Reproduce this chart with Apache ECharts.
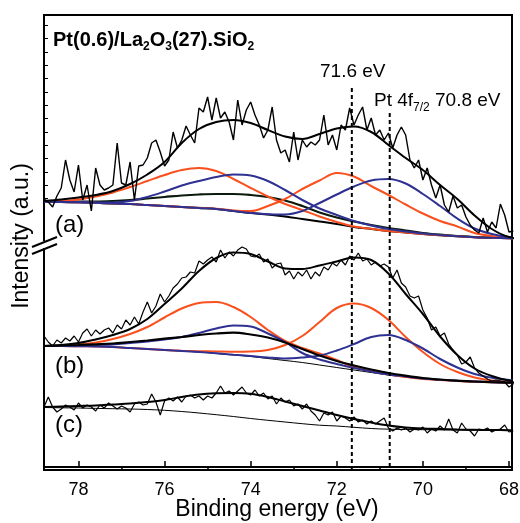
<!DOCTYPE html>
<html><head><meta charset="utf-8">
<script src="https://cdn.jsdelivr.net/npm/echarts@6/dist/echarts.min.js"></script>
<style>html,body{margin:0;padding:0;background:#fff}#c{width:520px;height:523px}</style>
</head><body><div id="c"></div>
<script>
// ---- energies (eV) ----
const fitE = [78.8,78.4,78.0,77.6,77.2,76.8,76.4,76.0,75.6,75.2,74.8,74.4,74.0,73.6,73.2,72.8,72.4,72.0,71.6,71.2,70.8,70.4,70.0,69.6,69.2,68.8,68.4,68.0,67.6];
const rawStart = 78.8, rawStep = 0.1;
const xMajorTicks = [68,70,72,74,76,78];
const xMinorTicks = [69,71,73,75,77];
const yTicks = [269,282,295,309,322,335,349,362,375,389,402,415,429,442];

// ---- spectrum (a) ----
const rawA = [268,265,260,271,279,307,287,275,302,267,
282,256,299,282,277,279,282,324,284,282,
305,267,301,302,309,324,327,315,301,307,
335,319,327,341,332,324,359,355,370,347,
369,349,355,345,327,367,342,357,365,352,
342,329,337,360,327,314,317,305,335,307,
327,320,325,322,327,352,322,332,317,342,
337,359,342,352,360,337,349,332,337,327,
334,319,332,340,332,307,299,307,287,299,
282,269,282,262,255,271,259,262,250,242,
237,234,249,235,245,239,263,252,235,236];
const envA   = [266,267.5,269.5,272,276,283,292.5,305,324,338,345,347,344,337,330.5,328,333,338.5,340.5,335,322,309,297,282,268,251.5,238,230,228.8];
const bgA    = [265.5,265,264.7,264.2,263.5,263,262,261,260,259,258,256,254,252.5,250.5,248,245.5,243,240,238,236,234.5,233,231.7,230.7,229.8,229.2,228.8,228.5];
const blackA = [265.5,265.5,265.5,265.5,266,267,268.5,270,271.5,272.5,273,273,272,270,266.5,261,254.5,249.5,245.5,242,239,236.5,234,232.3,231,230,229.4,229,228.7];
const red1A  = [265.7,266,267.5,270.5,274.5,280,286,292,297,299,296,288,279,270.5,263,257,250.5,245,240.5,238.2,236,234.5,233,231.7,230.7,229.8,229.2,228.8,228.5];
const red2A  = [265.5,265,264.7,264.2,263.5,263,262,261,260,259.2,258.3,256.5,256,261,268,278,286.5,294,290.5,281,272,262.5,253.5,246,240.5,234,231,229,228.6];
const blue1A = [265.6,265.1,264.8,264.5,264.5,266,270,275.5,281.5,286,290,292.5,291.5,286,277,267,258.5,252,246,241.5,238,235.5,233.5,232,230.8,229.8,229.2,228.8,228.5];
const blue2A = [265.5,265,264.7,264.2,263.5,263,262,261,260,259,258,256,254,252.7,252.5,256,264,272.5,280.5,286.5,288,283.5,273,261,248.5,238.5,233,230,229];

// ---- spectrum (b) ----
const rawB = [131,125,121,127,124,129,126,131,125,134,
138,131,137,133,137,139,134,142,138,147,
142,150,143,155,165,154,161,173,165,171,
179,183,189,190,195,194,206,203,207,210,
205,217,209,215,211,217,220,218,211,210,
213,205,208,199,203,204,192,196,188,195,
191,197,188,195,191,200,197,204,201,207,
202,211,207,214,206,208,202,205,201,203,
200,189,197,184,180,171,169,171,157,149,
137,140,131,134,123,117,112,103,105,110,
99,94,91,88,86,87,86,85,80,83];
const envB   = [121,122,124,127.5,132,138,148,163,178.5,196,209,214.5,213,205.5,198.5,198,201.5,205.5,209.5,207,193.5,173,153,130.5,112,98.5,91,86.5,85];
const bgB    = [121,121,120.8,120.5,120,119,118,117,116,115,113.5,112,110.5,108.5,106.5,104.5,102,99.5,97,94.5,92,90,88,87,86,85.3,84.7,84.3,84];
const blackB = [121,121.5,122,122.7,123.5,125,126.5,128.3,130,132,133.5,134.3,132.5,129.5,124.5,118,111.5,106,101.5,97.5,94,91.3,89,87.5,86.3,85.5,84.8,84.4,84.1];
const red1B  = [121,121.3,122.5,124.5,128,133,140,149.5,158.5,164,165,160,150,137,126,119,113.5,107,100,96,92.5,90,88,87,86,85.3,84.7,84.3,84];
const red2B  = [121,121,120.8,120.5,120,119,118,117,116.3,115.8,115.5,115.3,115.5,117,122,131,145,159,163.5,159,147,130,115,103,95,89.5,86.5,85,84.5];
const blue1B = [121,121.2,121.5,122,122.5,124,125.5,127.5,130,134,138.5,141.5,140.5,133.5,125,114,107.5,103,99,95.5,92.5,90.5,88.5,87.2,86.2,85.5,84.8,84.4,84.1];
const blue2B = [121,121,120.8,120.5,120,119,118,117,116,115,113.7,112.3,111,109.5,108.5,109.5,111.5,116.5,123,130,132,127,118.5,108,99.5,93,89.3,87,86];

// ---- spectrum (c) ----
const rawC = [60,70,60,55,58,62,60,57,64,59,
62,60,56,62,59,64,61,58,61,59,
55,63,65,62,63,73,65,52,66,69,
66,70,65,71,72,69,71,67,71,69,
74,81,74,76,72,76,80,74,72,77,
71,74,68,71,63,69,65,67,61,63,
58,63,56,52,46,54,52,55,46,51,
49,46,50,45,47,43,46,43,46,49,
39,36,39,37,39,35,38,37,40,34,
38,36,41,37,48,37,34,44,38,36,
31,38,37,39,35,37,38,42,35,36];
const envC = [60,60.5,61,61.5,62.5,63.5,65,67,70,72.5,73.7,74,73.2,70,65.5,61,56.5,52,48,44.5,41.5,39.5,38.5,38,37.5,37.2,37,36.8,36.7];
const bgC  = [59.5,59.2,59,58.6,58.3,58,57.5,56.7,55.5,54,52.3,50.5,48.5,46.7,45,43.3,41.8,41,39.7,38.5,37.8,37.5,37.3,37.1,37,36.8,36.6,36.4,36.3];

// ---- reference lines ----
const refLines = [{e:71.65, top:379}, {e:70.77, top:354}];

const RED = '#f9501e', BLUE = '#2e3192', BLK = '#000';
const FONT = '"Liberation Sans", Arial, sans-serif';

function fitPairs(ys){ return ys.map((y,i)=>[fitE[i], y]); }
function rawPairs(ys){ return ys.map((y,i)=>[+(rawStart - i*rawStep).toFixed(2), y]); }
function line(data, color, width, smooth, z){
  return {type:'line', data, showSymbol:false, smooth: smooth ? 0.35 : false, clip:true,
    lineStyle:{color, width}, itemStyle:{color}, z: z||2, silent:true, animation:false};
}

const series = [];
// (a)
series.push(line(fitPairs(bgA), BLK, 2, true));
series.push(line(fitPairs(blackA), '#0b1a0b', 2.2, true));
series.push(line(fitPairs(red1A), RED, 2, true));
series.push(line(fitPairs(red2A), RED, 2, true));
series.push(line(fitPairs(blue1A), BLUE, 2, true));
series.push(line(fitPairs(blue2A), BLUE, 2, true));
series.push(line(rawPairs(rawA), BLK, 1.4, false, 3));
series.push(line(fitPairs(envA), BLK, 2, true, 4));
// (b)
series.push(line(fitPairs(bgB), BLK, 1, true));
series.push(line(fitPairs(red1B), RED, 2, true));
series.push(line(fitPairs(red2B), RED, 2, true));
series.push(line(fitPairs(blue1B), BLUE, 2, true));
series.push(line(fitPairs(blue2B), BLUE, 2, true));
series.push(line(fitPairs(blackB), BLK, 2.2, true));
series.push(line(rawPairs(rawB), BLK, 1.2, false, 3));
series.push(line(fitPairs(envB), BLK, 2, true, 4));
// (c)
series.push(line(fitPairs(bgC), BLK, 1, true));
series.push(line(rawPairs(rawC), BLK, 1.2, false, 3));
series.push(line(fitPairs(envC), BLK, 2, true, 4));
// dashed reference lines
refLines.forEach(r=>{
  const s = line([[r.e, r.top],[r.e, -3]], BLK, 2, false, 5);
  s.lineStyle.type = [4,3];
  series.push(s);
});

const chart = echarts.init(document.getElementById('c'), null, {renderer:'canvas'});
chart.setOption({
  animation:false,
  backgroundColor:'#fff',
  grid:{left:44, right:8, top:15, bottom:53, show:true, borderColor:'#000', borderWidth:2, backgroundColor:'transparent', containLabel:false, outerBoundsMode:'none'},
  xAxis:[{
    type:'value', inverse:true, min:67.93, max:78.8, position:'bottom',
    axisLine:{show:true, lineStyle:{color:'#000', width:2}},
    axisTick:{show:true, inside:true, length:6, customValues:xMajorTicks, lineStyle:{color:'#000', width:1.5}},
    axisLabel:{show:true, customValues:xMajorTicks, color:'#000', fontSize:18, fontFamily:FONT, margin:11},
    splitLine:{show:false}
  },{
    type:'value', inverse:true, min:67.93, max:78.8, position:'bottom', offset:0,
    axisLine:{show:false},
    axisTick:{show:true, inside:true, length:4, customValues:xMinorTicks, lineStyle:{color:'#000', width:1.5}},
    axisLabel:{show:false}, splitLine:{show:false}
  }],
  yAxis:{
    type:'value', min:-3, max:452,
    axisLine:{show:true, lineStyle:{color:'#000', width:2}},
    axisTick:{show:true, inside:true, length:4, customValues:yTicks, lineStyle:{color:'#000', width:1}},
    axisLabel:{show:false}, splitLine:{show:false}
  },
  series,
  graphic:[
    {type:'text', x:22, y:236, rotation:Math.PI/2, z:10, style:{
      text:'Intensity (a.u.)', fontSize:23, fontFamily:FONT, fill:'#000', align:'center', verticalAlign:'middle'}},
    {type:'text', x:277, y:510, z:10, style:{
      text:'Binding energy (eV)', fontSize:23, fontFamily:FONT, fill:'#000', align:'center', verticalAlign:'middle'}},
    {type:'text', left:53, top:30, z:10, style:{
      text:'{m|Pt(0.6)/La}{s|2}{m|O}{s|3}{m|(27).SiO}{s|2}',
      rich:{m:{fontSize:20, fontWeight:'bold', fontFamily:FONT, lineHeight:22, verticalAlign:'top'},
            s:{fontSize:12, fontWeight:'bold', fontFamily:FONT, lineHeight:12, verticalAlign:'top', padding:[11,0,0,0]}},
      fill:'#000'}},
    {type:'text', left:320, top:62, z:10, style:{text:'71.6 eV', fontSize:19, fontFamily:FONT, fill:'#000'}},
    {type:'text', left:374, top:91, z:10, style:{
      text:'{n|Pt 4f}{s|7/2}{n| 70.8 eV}',
      rich:{n:{fontSize:19, fontFamily:FONT, lineHeight:22, verticalAlign:'top'},
            s:{fontSize:12, fontFamily:FONT, lineHeight:12, verticalAlign:'top', padding:[11,0,0,0]}},
      fill:'#000'}},
    {type:'text', left:55, top:213, z:10, style:{text:'(a)', fontSize:24, fontFamily:FONT, fill:'#000'}},
    {type:'text', left:55, top:354, z:10, style:{text:'(b)', fontSize:24, fontFamily:FONT, fill:'#000'}},
    {type:'text', left:55, top:413, z:10, style:{text:'(c)', fontSize:24, fontFamily:FONT, fill:'#000'}},
    {type:'rect', z:20, shape:{x:41, y:241, width:6, height:7}, style:{fill:'#fff'}},
    {type:'line', z:21, shape:{x1:32, y1:247, x2:57, y2:237}, style:{stroke:'#000', lineWidth:2}},
    {type:'line', z:21, shape:{x1:32, y1:254, x2:57, y2:244}, style:{stroke:'#000', lineWidth:2}}
  ]
});
</script></body></html>
